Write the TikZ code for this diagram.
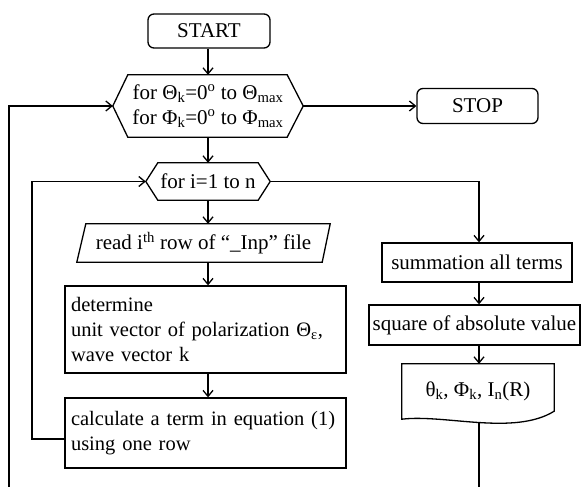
\documentclass[tikz,border=0pt]{standalone}
\usepackage{fontspec}
\setmainfont{Liberation Serif}
\usetikzlibrary{arrows.meta}

\tikzset{
  flow/.style={line width=1.3pt, line join=miter},
  arr/.style={flow, -{Straight Barb[length=6pt,width=10pt,line width=1.3pt]}},
  term/.style={draw, flow, rounded corners=6pt, inner sep=0pt, align=center},
  plainbox/.style={draw, flow, inner sep=0pt, align=center},
  textbox/.style={draw, flow, inner xsep=6pt, inner ysep=0pt, align=left,
    font=\fontsize{20.5}{25}\selectfont},
  shapeholder/.style={inner sep=0pt, align=center},
}

\begin{document}
\begin{tikzpicture}[x=1pt, y=-1pt, font=\fontsize{21}{25}\selectfont]
\useasboundingbox (0,0) rectangle (582,487);

% column positions for the vertical connectors
\coordinate (lcol) at (208,0);
\coordinate (rcol) at (479,0);
\coordinate (bottom) at (0,487);
\coordinate (outer) at (9,487);
\coordinate (innerc) at (32,439);

% terminals
\node[term, minimum width=122pt, minimum height=34pt] (start) at (209,31) {START};
\node[term, minimum width=121pt, minimum height=35pt] (stop) at (477.5,106) {STOP};

% outer loop (hexagon)
\node[shapeholder, minimum width=190pt, minimum height=62pt] (h1) at (208,106)
  {for Θ\textsubscript{k}=0\textsuperscript{o} to Θ\textsubscript{max}\\
   for Φ\textsubscript{k}=0\textsuperscript{o} to Φ\textsubscript{max}};
\draw[flow] (h1.west) -- ([xshift=15pt]h1.north west) -- ([xshift=-16pt]h1.north east)
  -- (h1.east) -- ([xshift=-16pt]h1.south east) -- ([xshift=15pt]h1.south west) -- cycle;

% inner loop (hexagon)
\node[shapeholder, minimum width=124pt, minimum height=37pt] (h2) at (208,181.5) {for i=1 to n};
\draw[flow] (h2.west) -- ([xshift=12pt]h2.north west) -- ([xshift=-12pt]h2.north east)
  -- (h2.east) -- ([xshift=-12pt]h2.south east) -- ([xshift=12pt]h2.south west) -- cycle;

% input (parallelogram)
\node[shapeholder, minimum width=253pt, minimum height=38pt] (rd) at (203.5,243)
  {read i\textsuperscript{th} row of “\_Inp” file};
\draw[flow] (rd.south west) -- ([xshift=9pt]rd.north west) -- (rd.north east)
  -- ([xshift=-8pt]rd.south east) -- cycle;

% process boxes
\node[textbox, text width=269pt, minimum height=87pt] (det) at (205.5,329.5)
  {determine\\\mbox{unit vector of polarization Θ\textsubscript{ε},}\\wave vector k};
\node[textbox, text width=269pt, minimum height=70pt] (calc) at (205.5,433)
  {\mbox{calculate a term in equation (1)}\\using one row};

\node[plainbox, minimum width=190pt, minimum height=39pt] (sum) at (477,262.5) {summation all terms};
\node[plainbox, minimum width=211pt, minimum height=40pt] (sq) at (474.5,325) {square of absolute value};

% output (document)
\node[shapeholder, minimum width=152pt, minimum height=55pt] (doc) at (478,391.5)
  {θ\textsubscript{k}, Φ\textsubscript{k}, I\textsubscript{n}(R)};
\draw[flow] (doc.south west) -- (doc.north west) -- (doc.north east) -- ([yshift=8pt]doc.south east)
  .. controls (514,436) and (445,414) .. (doc.south west) coordinate[pos=0.5] (docb) -- cycle;

% connectors
\draw[arr] (start.south -| lcol) -- (h1.north -| lcol);
\draw[arr] (h1.east) -- (stop.west);
\draw[arr] (h1.south -| lcol) -- (h2.north -| lcol);
\draw[arr] (h2.south -| lcol) -- (rd.north -| lcol);
\draw[arr] (rd.south -| lcol) -- (det.north -| lcol);
\draw[arr] (det.south -| lcol) -- (calc.north -| lcol);
\draw[arr] (h2.east) -| (sum.north -| rcol);
\draw[arr] (sum.south -| rcol) -- (sq.north -| rcol);
\draw[arr] (sq.south -| rcol) -- (doc.north -| rcol);
\draw[flow] (docb) -- (docb |- bottom);
\draw[arr] (calc.west |- innerc) -- (innerc) |- (h2.west);
\draw[arr] (outer) |- (h1.west);
\end{tikzpicture}
\end{document}
